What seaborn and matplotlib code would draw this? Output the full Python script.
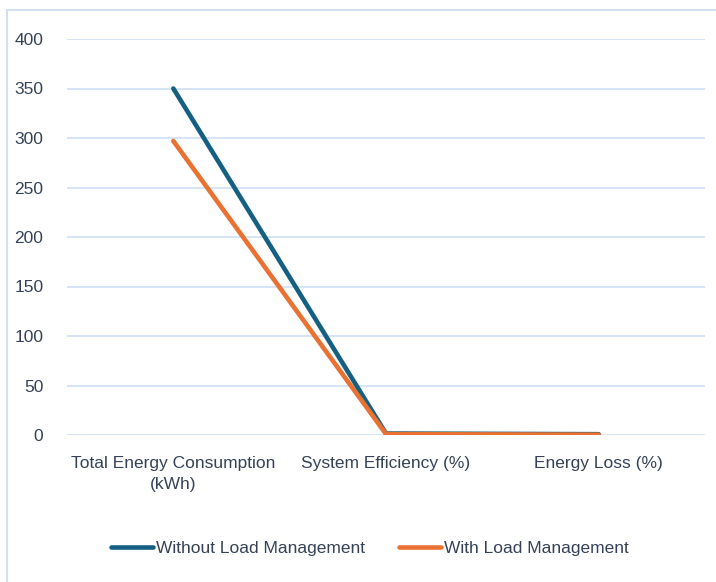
import matplotlib
matplotlib.use("Agg")
import matplotlib.pyplot as plt
import seaborn as sns
import pandas as pd
from matplotlib.patches import Rectangle
from matplotlib.lines import Line2D

categories = ["Total Energy Consumption\n(kWh)", "System Efficiency (%)", "Energy Loss (%)"]
series_names = ["Without Load Management", "With Load Management"]
without_lm = [350, 1.5, 0.8]
with_lm = [297, 0.9, 0.3]

colors = {"Without Load Management": "#156082", "With Load Management": "#E97132"}
text_color = "#354256"
grid_color = "#D3E2F4"

sns.set_theme(style="white")
plt.rcParams["font.family"] = ["Liberation Sans Narrow", "Liberation Sans", "DejaVu Sans"]

df = pd.DataFrame({
    "category": categories * 2,
    "x": list(range(len(categories))) * 2,
    "value": without_lm + with_lm,
    "series": [series_names[0]] * 3 + [series_names[1]] * 3,
})

fig = plt.figure(figsize=(7.16, 5.82), dpi=100)
ax = fig.add_axes([67 / 716, 1 - 435 / 582, (705 - 67) / 716, (435 - 39) / 582])

sns.lineplot(data=df, x="x", y="value", hue="series", palette=colors, ax=ax,
             linewidth=3.3, legend=False, sort=False,
             solid_capstyle="round", solid_joinstyle="round")

ax.set_xlim(-0.5, 2.5)
ax.set_ylim(0, 400)
ax.set_yticks(range(0, 401, 50))
ax.set_xticks(range(len(categories)))
ax.set_xticklabels(categories, fontsize=12.5, color=text_color, linespacing=1.5)
ax.tick_params(axis="y", labelsize=12.5, labelcolor=text_color, length=0, pad=17)
ax.tick_params(axis="x", length=0, pad=15)
ax.set_xlabel("")
ax.set_ylabel("")
for s in ax.spines.values():
    s.set_visible(False)
ax.grid(axis="y", color=grid_color, linewidth=1.3)
ax.set_axisbelow(True)

# border of chart area
fig.patches.append(Rectangle((7 / 716, -0.1), 1.2, 1 - 10 / 582 + 0.1,
                             transform=fig.transFigure, fill=False,
                             edgecolor="#D3E0F0", linewidth=1.5))

handles = [Line2D([0], [0], color=colors[n], linewidth=3.3, solid_capstyle="round") for n in series_names]
fig.legend(handles, series_names, loc="center", bbox_to_anchor=(370 / 716, 1 - 548 / 582),
           ncol=2, frameon=False, fontsize=12.5, labelcolor=text_color,
           handlelength=2.4, handletextpad=0.15, columnspacing=2.0)

fig.savefig("out.png", dpi=100)
